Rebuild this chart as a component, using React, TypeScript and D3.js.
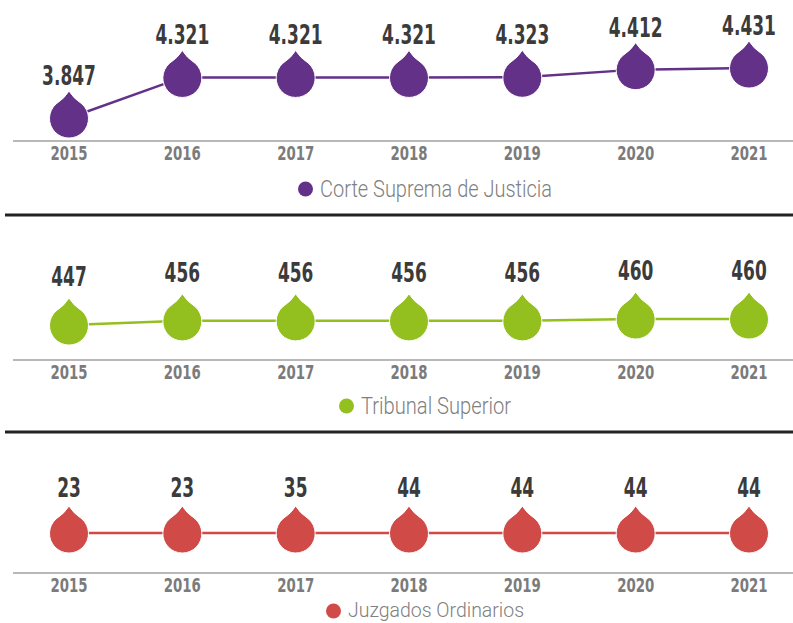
import React, { useEffect, useRef } from "react";
import * as d3 from "d3";

const years = ["2015", "2016", "2017", "2018", "2019", "2020", "2021"];
const corteSuprema = [3847, 4321, 4321, 4321, 4323, 4412, 4431];
const tribunalSuperior = [447, 456, 456, 456, 456, 460, 460];
const juzgadosOrdinarios = [23, 23, 35, 44, 44, 44, 44];

const seriesNames = ["Corte Suprema de Justicia", "Tribunal Superior", "Juzgados Ordinarios"];
const seriesColors = ["#633188", "#93c01f", "#d04a48"];

const W = 793;
const H = 623;

const boldFont = "'DejaVu Sans Condensed', 'DejaVu Sans', sans-serif";
const lightFont = "Roboto, 'Noto Sans', sans-serif";

// drop-shaped marker, centred on the circle
const dropPath = "M0,-27 Q4,-20 13,-14 A19.5,19.5 0 1,1 -13,-14 Q-4,-20 0,-27 Z";

const esFormat = d3.formatLocale({ decimal: ",", thousands: ".", grouping: [3], currency: ["", ""] }).format(",");

const App = () => {
  const svgRef = useRef<SVGSVGElement>(null);

  useEffect(() => {
    const svg = d3.select(svgRef.current);
    svg.selectAll("*").remove();

    const x = d3.scalePoint().domain(years).range([69, 749]);

    const panels = [
      { data: corteSuprema, axisY: 141, domain: [3847, 4431], range: [118, 68], labelOff: 33, legendOff: 48, legendW: 232, textDy: 8 },
      { data: tribunalSuperior, axisY: 360, domain: [447, 460], range: [325, 319], labelOff: 39, legendOff: 46, legendW: 150, textDy: 8 },
      { data: juzgadosOrdinarios, axisY: 573, domain: [0, 20000], range: [533, 520], labelOff: 36, legendOff: 38, legendW: 176, textDy: 6 },
    ];

    // separators
    [215, 432].forEach(yy => {
      svg.append("line")
        .attr("x1", 5).attr("x2", W)
        .attr("y1", yy).attr("y2", yy)
        .attr("stroke", "#222").attr("stroke-width", 3);
    });

    panels.forEach((p, i) => {
      const color = seriesColors[i];
      const y = d3.scaleLinear().domain(p.domain).range(p.range);
      const g = svg.append("g");

      // axis baseline
      g.append("line")
        .attr("x1", 13).attr("x2", W)
        .attr("y1", p.axisY).attr("y2", p.axisY)
        .attr("stroke", "#a0a0a0").attr("stroke-width", 1.5);

      // year labels (squeezed to look condensed)
      g.selectAll("text.year")
        .data(years)
        .join("text")
        .attr("class", "year")
        .attr("transform", d => `translate(${x(d)},${p.axisY + 19}) scale(0.78,1)`)
        .attr("text-anchor", "middle")
        .style("font-family", boldFont)
        .style("font-weight", "bold")
        .style("font-size", "19px")
        .style("fill", "#7b7b7b")
        .text(d => d);

      const line = d3.line<number>()
        .x((_, j) => x(years[j]))
        .y(d => y(d));

      g.append("path")
        .datum(p.data)
        .attr("d", line)
        .attr("fill", "none")
        .attr("stroke", color)
        .attr("stroke-width", 2.5);

      g.selectAll("path.drop")
        .data(p.data)
        .join("path")
        .attr("class", "drop")
        .attr("d", dropPath)
        .attr("transform", (d, j) => `translate(${x(years[j])},${y(d)})`)
        .attr("fill", color)
        .attr("stroke", "#fff")
        .attr("stroke-width", 1);

      g.selectAll("text.val")
        .data(p.data)
        .join("text")
        .attr("class", "val")
        .attr("transform", (d, j) => `translate(${x(years[j])},${y(d) - p.labelOff}) scale(0.7,1)`)
        .attr("text-anchor", "middle")
        .style("font-family", boldFont)
        .style("font-weight", "bold")
        .style("font-size", "27px")
        .style("fill", "#3b3b3b")
        .text(d => esFormat(d));

      // legend
      const lg = g.append("g")
        .attr("transform", `translate(${425 - (p.legendW + 22) / 2},${p.axisY + p.legendOff})`);
      lg.append("circle")
        .attr("cx", 7.5).attr("cy", 0).attr("r", 7.5)
        .attr("fill", color);
      lg.append("text")
        .attr("x", 22).attr("y", p.textDy)
        .attr("textLength", p.legendW)
        .attr("lengthAdjust", "spacingAndGlyphs")
        .style("font-family", lightFont)
        .style("font-weight", 300)
        .style("font-size", i === 2 ? "21px" : "23px")
        .style("fill", "#808080")
        .text(seriesNames[i]);
    });
  }, []);

  return (
    <svg
      ref={svgRef}
      width={W}
      height={H}
      style={{ position: "absolute", left: 0, top: 0, background: "#fff" }}
    />
  );
};

export default App;
